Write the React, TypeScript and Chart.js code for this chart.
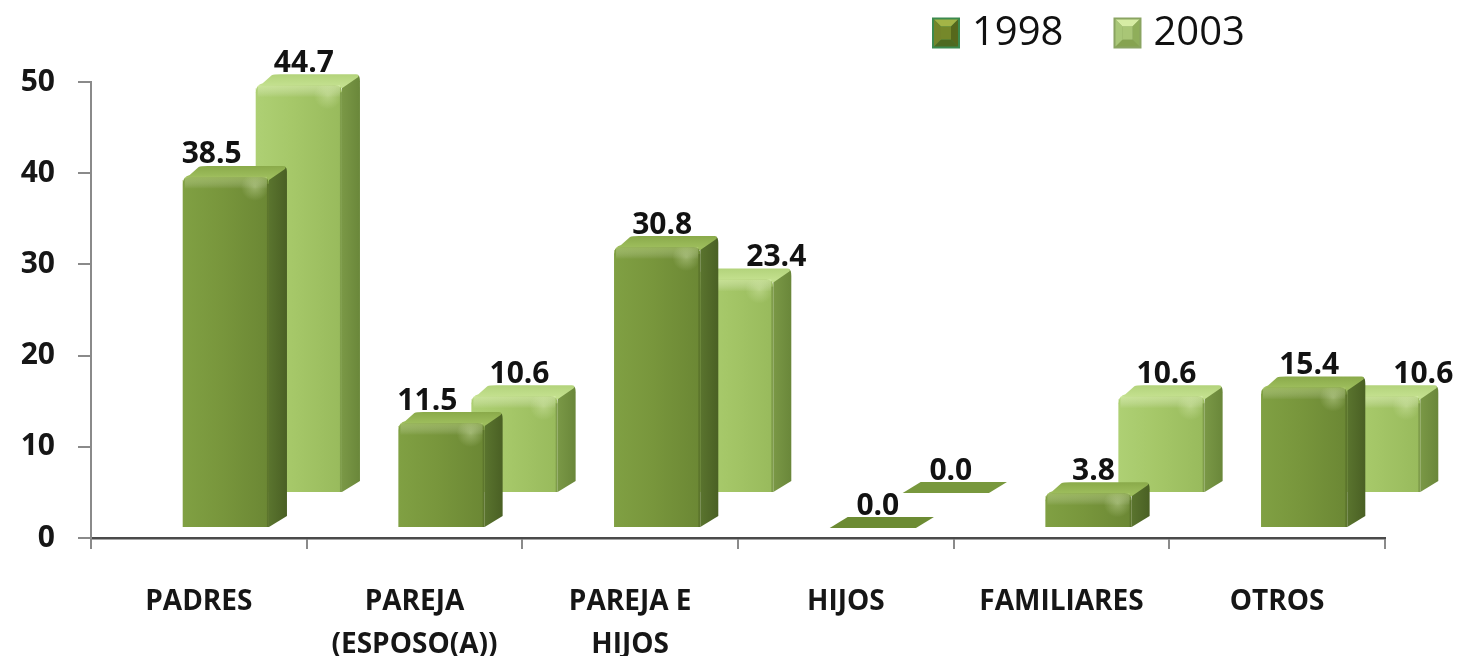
import React, { useEffect, useRef } from 'react';
import { Chart, registerables } from 'chart.js';

Chart.register(...registerables);

// ---------- data ----------
const categories: string[][] = [
  ['PADRES'],
  ['PAREJA', '(ESPOSO(A))'],
  ['PAREJA E', 'HIJOS'],
  ['HIJOS'],
  ['FAMILIARES'],
  ['OTROS'],
];
const seriesNames = ['1998', '2003'];
const values1998 = [38.5, 11.5, 30.8, 0.0, 3.8, 15.4];
const values2003 = [44.7, 10.6, 23.4, 0.0, 10.6, 10.6];
const yTickValues = [0, 10, 20, 30, 40, 50];

// ---------- styles ----------
const FONT = '"Open Sans", "DejaVu Sans", sans-serif';
const ROWS = [
  { dx: 27, dy: -10 }, // 1998 front row
  { dx: 100, dy: -45 }, // 2003 back row
];
const DEPTH_X = 18;
const DEPTH_Y = -11;
const PAL = [
  {
    frontL: '#80a043', frontM: '#78963c', frontR: '#6b8734',
    top: '#8aaa4a', topHi: '#9dbd5c', sideA: '#5a742e', sideB: '#4a6024',
    plate: '#6c8b33', hi: 'rgba(190,215,130,0.45)',
  },
  {
    frontL: '#aed074', frontM: '#a5c768', frontR: '#98ba5c',
    top: '#b3d37b', topHi: '#c3e08e', sideA: '#7a9846', sideB: '#6a873a',
    plate: '#78983d', hi: 'rgba(230,248,190,0.5)',
  },
];

type Rect = { l: number; r: number; t: number; b: number };

const bar3dPlugin = {
  id: 'bar3d',
  beforeDatasetDraw() {
    return false;
  },
  afterDatasetsDraw(chart: any) {
    const ctx: CanvasRenderingContext2D = chart.ctx;
    const rects: Rect[][] = [[], []];
    const geo: any[][] = [[], []];
    chart.data.datasets.forEach((ds: any, d: number) => {
      const meta = chart.getDatasetMeta(d);
      meta.data.forEach((el: any, i: number) => {
        const w = el.width;
        const cx = el.x + ROWS[d].dx;
        const left = cx - w / 2;
        const right = cx + w / 2;
        const bottom = el.base + ROWS[d].dy;
        const top = el.y + ROWS[d].dy;
        geo[d][i] = { left, right, top, bottom, cx, v: ds.data[i] };
        rects[d][i] = { l: left, r: right + DEPTH_X, t: top + DEPTH_Y, b: bottom };
      });
    });

    const drawBar = (d: number, g: any) => {
      const p = PAL[d];
      const { left, right, top, bottom } = g;
      const h = bottom - top;
      ctx.save();
      if (h < 1) {
        ctx.beginPath();
        ctx.moveTo(left, bottom);
        ctx.lineTo(left + DEPTH_X, bottom + DEPTH_Y);
        ctx.lineTo(right + DEPTH_X, bottom + DEPTH_Y);
        ctx.lineTo(right, bottom);
        ctx.closePath();
        ctx.fillStyle = p.plate;
        ctx.fill();
        ctx.restore();
        return;
      }
      const r = 7;
      // side face
      const sg = ctx.createLinearGradient(right, 0, right + DEPTH_X, 0);
      sg.addColorStop(0, p.sideA);
      sg.addColorStop(1, p.sideB);
      ctx.beginPath();
      ctx.moveTo(right, top + 2);
      ctx.lineTo(right + DEPTH_X - 3, top + DEPTH_Y + 1);
      ctx.quadraticCurveTo(right + DEPTH_X, top + DEPTH_Y, right + DEPTH_X, top + DEPTH_Y + r);
      ctx.lineTo(right + DEPTH_X, bottom + DEPTH_Y);
      ctx.lineTo(right, bottom);
      ctx.closePath();
      ctx.fillStyle = sg;
      ctx.fill();
      // top face
      const tg = ctx.createLinearGradient(0, top + DEPTH_Y, 0, top);
      tg.addColorStop(0, p.top);
      tg.addColorStop(1, p.topHi);
      ctx.beginPath();
      ctx.moveTo(left, top + r);
      ctx.quadraticCurveTo(left, top, left + r, top - 2);
      ctx.lineTo(left + DEPTH_X - 2, top + DEPTH_Y + 1);
      ctx.quadraticCurveTo(left + DEPTH_X, top + DEPTH_Y, left + DEPTH_X + r, top + DEPTH_Y);
      ctx.lineTo(right + DEPTH_X - 4, top + DEPTH_Y);
      ctx.quadraticCurveTo(right + DEPTH_X, top + DEPTH_Y, right + DEPTH_X - 2, top + DEPTH_Y + 3);
      ctx.lineTo(right, top + 3);
      ctx.lineTo(left, top + 3);
      ctx.closePath();
      ctx.fillStyle = tg;
      ctx.fill();
      // front face
      const fg = ctx.createLinearGradient(left, 0, right, 0);
      fg.addColorStop(0, p.frontL);
      fg.addColorStop(0.45, p.frontM);
      fg.addColorStop(1, p.frontR);
      ctx.beginPath();
      ctx.moveTo(left, bottom);
      ctx.lineTo(left, top + r);
      ctx.quadraticCurveTo(left, top, left + r, top);
      ctx.lineTo(right - r, top);
      ctx.quadraticCurveTo(right, top, right, top + r);
      ctx.lineTo(right, bottom);
      ctx.closePath();
      ctx.fillStyle = fg;
      ctx.fill();
      // top bevel highlight
      const hg = ctx.createLinearGradient(0, top, 0, top + 12);
      hg.addColorStop(0, p.hi);
      hg.addColorStop(1, 'rgba(255,255,255,0)');
      ctx.fillStyle = hg;
      ctx.fillRect(left + 2, top, right - left - 4, Math.min(12, h));
      // soft highlight near top-right corner
      const rg = ctx.createRadialGradient(right - 14, top + 10, 0, right - 14, top + 10, 14);
      rg.addColorStop(0, 'rgba(235,250,200,0.35)');
      rg.addColorStop(1, 'rgba(235,250,200,0)');
      ctx.fillStyle = rg;
      ctx.fillRect(right - 30, top, 28, Math.min(26, h));
      // dark edge between front and side
      ctx.fillStyle = 'rgba(40,55,20,0.22)';
      ctx.fillRect(right - 2, top + r, 2, h - r);
      ctx.restore();
    };

    // back row first, then front row
    geo[1].forEach((g) => drawBar(1, g));
    geo[0].forEach((g) => drawBar(0, g));

    // value labels
    ctx.save();
    ctx.font = `700 30px ${FONT}`;
    ctx.fillStyle = '#121212';
    ctx.textAlign = 'center';
    ctx.textBaseline = 'middle';
    const LH = 24;
    [0, 1].forEach((d) => {
      geo[d].forEach((g, i) => {
        const text = Number(g.v).toFixed(1);
        const tw = ctx.measureText(text).width;
        let x = g.cx + 5;
        const y = g.top + DEPTH_Y - 11;
        const other = rects[1 - d][i];
        const lab = { l: x - tw / 2, r: x + tw / 2, t: y - LH / 2, b: y + LH / 2 };
        const hit = lab.r > other.l && lab.l < other.r && lab.b > other.t && lab.t < other.b;
        if (hit) {
          if (d === 0) x = other.l - 14 - tw / 2;
          else x = other.r + 28 + tw / 2;
        }
        ctx.fillText(text, x, y);
      });
    });
    ctx.restore();
  },
  afterDraw(chart: any) {
    // legend
    const ctx: CanvasRenderingContext2D = chart.ctx;
    ctx.save();
    ctx.font = `400 40px ${FONT}`;
    ctx.textBaseline = 'middle';
    ctx.textAlign = 'left';
    let x = 924;
    const cy = 25;
    const bw = 28;
    const bh = 31;
    const boxCols = [
      { outer: '#3c8a4e', top: '#a3b446', left: '#74852a', right: '#56681c', bottom: '#4d6a20', center: '#75882a' },
      { outer: '#8aa462', top: '#d6eca4', left: '#a9c778', right: '#8fae5a', bottom: '#86a350', center: '#a9c676' },
    ];
    chart.data.datasets.forEach((ds: any, d: number) => {
      const c = boxCols[d];
      const bx = x;
      const by = cy - bh / 2;
      ctx.fillStyle = c.outer;
      ctx.fillRect(bx, by, bw, bh);
      const ix = bx + 2, iy = by + 2, iw = bw - 4, ih = bh - 4;
      const inset = 7;
      const tri = (pts: number[][], col: string) => {
        ctx.beginPath();
        ctx.moveTo(pts[0][0], pts[0][1]);
        for (let k = 1; k < pts.length; k++) ctx.lineTo(pts[k][0], pts[k][1]);
        ctx.closePath();
        ctx.fillStyle = col;
        ctx.fill();
      };
      const a = [ix, iy], b = [ix + iw, iy], cc = [ix + iw, iy + ih], dd = [ix, iy + ih];
      const ia = [ix + inset, iy + inset], ib = [ix + iw - inset, iy + inset];
      const ic = [ix + iw - inset, iy + ih - inset], id = [ix + inset, iy + ih - inset];
      tri([a, b, ib, ia], c.top);
      tri([b, cc, ic, ib], c.right);
      tri([cc, dd, id, ic], c.bottom);
      tri([dd, a, ia, id], c.left);
      tri([ia, ib, ic, id], c.center);
      ctx.fillStyle = '#111';
      ctx.fillText(ds.label, bx + bw + 12, cy + 1);
      const tw = ctx.measureText(ds.label).width;
      x = bx + bw + 12 + tw + 50;
    });
    ctx.restore();
  },
};

export default function App() {
  const ref = useRef<HTMLCanvasElement | null>(null);
  useEffect(() => {
    if (!ref.current) return;
    const chart = new Chart(ref.current, {
      type: 'bar',
      data: {
        labels: categories,
        datasets: [
          { label: seriesNames[0], data: values1998, backgroundColor: '#77933c' },
          { label: seriesNames[1], data: values2003, backgroundColor: '#a5c768' },
        ],
      },
      options: {
        responsive: false,
        animation: false,
        events: [],
        layout: { padding: { top: 74, right: 74, bottom: 0, left: 0 } },
        datasets: { bar: { grouped: false, categoryPercentage: 1, barPercentage: 0.4 } },
        plugins: { legend: { display: false }, tooltip: { enabled: false }, title: { display: false } },
        scales: {
          x: {
            type: 'category',
            offset: true,
            grid: {
              display: true,
              drawOnChartArea: false,
              drawTicks: true,
              tickLength: 11,
              color: '#8a8a8a',
              lineWidth: 2,
              offset: true,
            },
            border: { display: true, color: '#4a4a4a', width: 2.5 },
            ticks: {
              color: '#161616',
              font: { family: FONT, size: 28, weight: '700', lineHeight: '43px' as any },
              padding: 32,
              maxRotation: 0,
              minRotation: 0,
              autoSkip: false,
            },
            afterFit: (s: any) => {
              s.height = 118;
            },
          },
          y: {
            min: 0,
            max: 50,
            afterBuildTicks: (s: any) => {
              s.ticks = yTickValues.map((v) => ({ value: v }));
            },
            grid: {
              display: true,
              drawOnChartArea: false,
              drawTicks: true,
              tickLength: 13,
              color: '#8a8a8a',
              lineWidth: 2,
            },
            border: { display: true, color: '#8a8a8a', width: 2 },
            ticks: {
              color: '#161616',
              font: { family: FONT, size: 30, weight: '700' },
              padding: 23,
            },
            afterFit: (s: any) => {
              s.width = 83;
            },
          },
        },
      },
      plugins: [bar3dPlugin],
    });
    return () => chart.destroy();
  }, []);
  return (
    <div style={{ width: 1451, height: 648 }}>
      <canvas ref={ref} width={1451} height={648} style={{ display: 'block' }} />
    </div>
  );
}
